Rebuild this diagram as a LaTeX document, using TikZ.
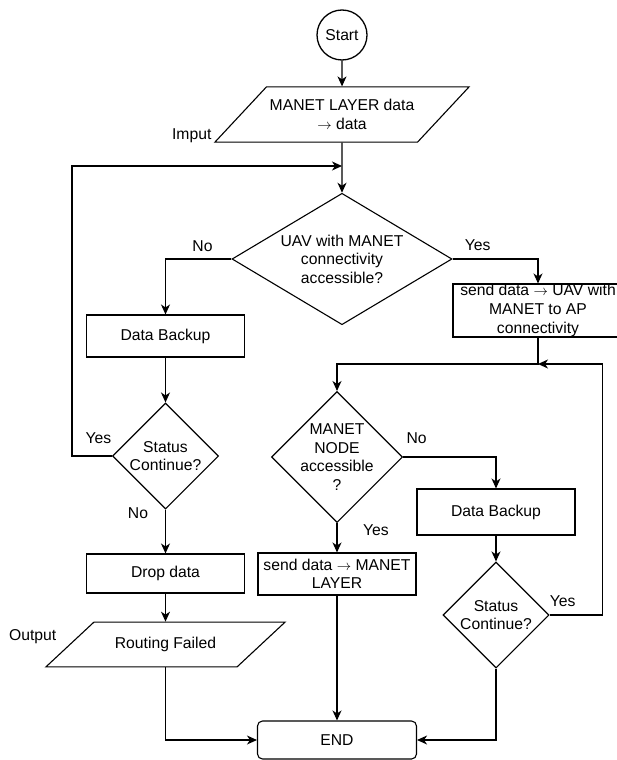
\documentclass[tikz,border=0pt]{standalone}
\usepackage{fontspec}
\setmainfont{Liberation Sans}
\usetikzlibrary{shapes.geometric,arrows.meta,positioning}

\tikzset{
  every node/.style={font=\fontsize{15.7}{18.6}\selectfont},
  startstop/.style={circle, draw, line width=1.3pt, minimum size=50pt, inner sep=0pt},
  terminal/.style={rectangle, rounded corners=5pt, draw, minimum width=159pt, minimum height=38pt},
  process/.style={rectangle, draw, minimum width=158pt, minimum height=42pt, inner sep=0pt, align=center},
  io/.style={trapezium, trapezium stretches body, draw, inner xsep=0pt, align=center},
  decision/.style={diamond, draw, inner sep=-10pt, align=center},
  lbl/.style={inner sep=0pt},
}

\begin{document}
\begin{tikzpicture}[x=1pt, y=1pt, on grid, line width=1.1pt,
    >={Stealth[length=10pt,width=9pt,inset=3pt]}]
  \useasboundingbox (0,0) rectangle (616,-760);

  % main column
  \node[startstop] (start) at (342,-35) {Start};
  \node[io, minimum width=254pt, inner ysep=12.5pt,
        trapezium left angle=47, trapezium right angle=133]
        (input) [below=79.5pt of start] {MANET LAYER data\\$\rightarrow$ data};
  \node[decision, minimum width=220pt, minimum height=130pt]
        (uavok) [below=144.5pt of input] {UAV with MANET\\connectivity\\accessible?};

  % left branch
  \node[process] (backup1) [below left=77pt and 176.5pt of uavok] {Data Backup};
  \node[decision, minimum width=106pt, minimum height=106pt]
        (cont1) [below=120pt of backup1] {Status\\Continue?};
  \node[process, minimum height=39pt] (drop) [below=117.5pt of cont1] {Drop data};
  \node[io, minimum width=239pt, inner ysep=15pt,
        trapezium left angle=43, trapezium right angle=137]
        (failed) [below=71pt of drop] {Routing Failed};

  % right branch
  \node[process, minimum width=170pt, minimum height=53pt]
        (toap) [below right=51.5pt and 196pt of uavok] {send data $\rightarrow$ UAV with\\MANET to AP\\connectivity};
  \node[decision, minimum width=131pt, minimum height=131pt]
        (nodeok) [below left=198pt and 5pt of uavok] {MANET\\NODE\\accessible\\?};
  \node[process] (tolayer) [below=117pt of nodeok] {send data $\rightarrow$ MANET\\LAYER};
  \node[process, minimum height=46pt] (backup2) [below right=55pt and 159pt of nodeok] {Data Backup};
  \node[decision, minimum width=106pt, minimum height=106pt]
        (cont2) [below=103pt of backup2] {Status\\Continue?};
  \node[terminal] (end) [below=166pt of tolayer] {END};

  \coordinate[below=51.5pt of input] (join1);
  \coordinate[below=53.5pt of toap] (join2);

  % labels
  \node[lbl, above left=7pt and 22pt of input.bottom left corner, anchor=center] (imput) {Imput};
  \node[lbl, below left=15pt and 61pt of failed.top left corner, anchor=center] (outlbl) {Output};
  \node[lbl, above left=13pt and 29pt of uavok.west, anchor=center] (no1) {No};
  \node[lbl, above right=14pt and 25pt of uavok.east, anchor=center] (yes1) {Yes};
  \node[lbl, above left=18pt and 13.5pt of cont1.west, anchor=center] (yes2) {Yes};
  \node[lbl, below left=4pt and 27.5pt of cont1.south, anchor=center] (no2) {No};
  \node[lbl, above right=19pt and 13.5pt of nodeok.east, anchor=center] (no3) {No};
  \node[lbl, below right=7.5pt and 39pt of nodeok.south, anchor=center] (yes3) {Yes};
  \node[lbl, above right=14pt and 13pt of cont2.east, anchor=center] (yes4) {Yes};

  % connectors
  \draw[->] (start) -- (input);
  \draw[->] (input) -- (uavok);
  \draw[->] (uavok.west) -| (backup1.north);
  \draw[->] (backup1) -- (cont1);
  \draw[->] (cont1.west) -- ++(-40pt,0) |- (join1);
  \draw[->] (cont1) -- (drop);
  \draw[->] (drop) -- (failed);
  \draw[->] (failed.south) |- (end.west);
  \draw[->] (uavok.east) -| (toap.north);
  \draw[->] (toap.south) -- (join2) -| (nodeok.north);
  \draw[->] (nodeok.east) -| (backup2.north);
  \draw[->] (nodeok) -- (tolayer);
  \draw[->] (backup2) -- (cont2);
  \draw[->] (cont2.east) -- ++(53pt,0) |- (join2);
  \draw[->] (tolayer) -- (end);
  \draw[->] (cont2.south) |- (end.east);
\end{tikzpicture}
\end{document}
